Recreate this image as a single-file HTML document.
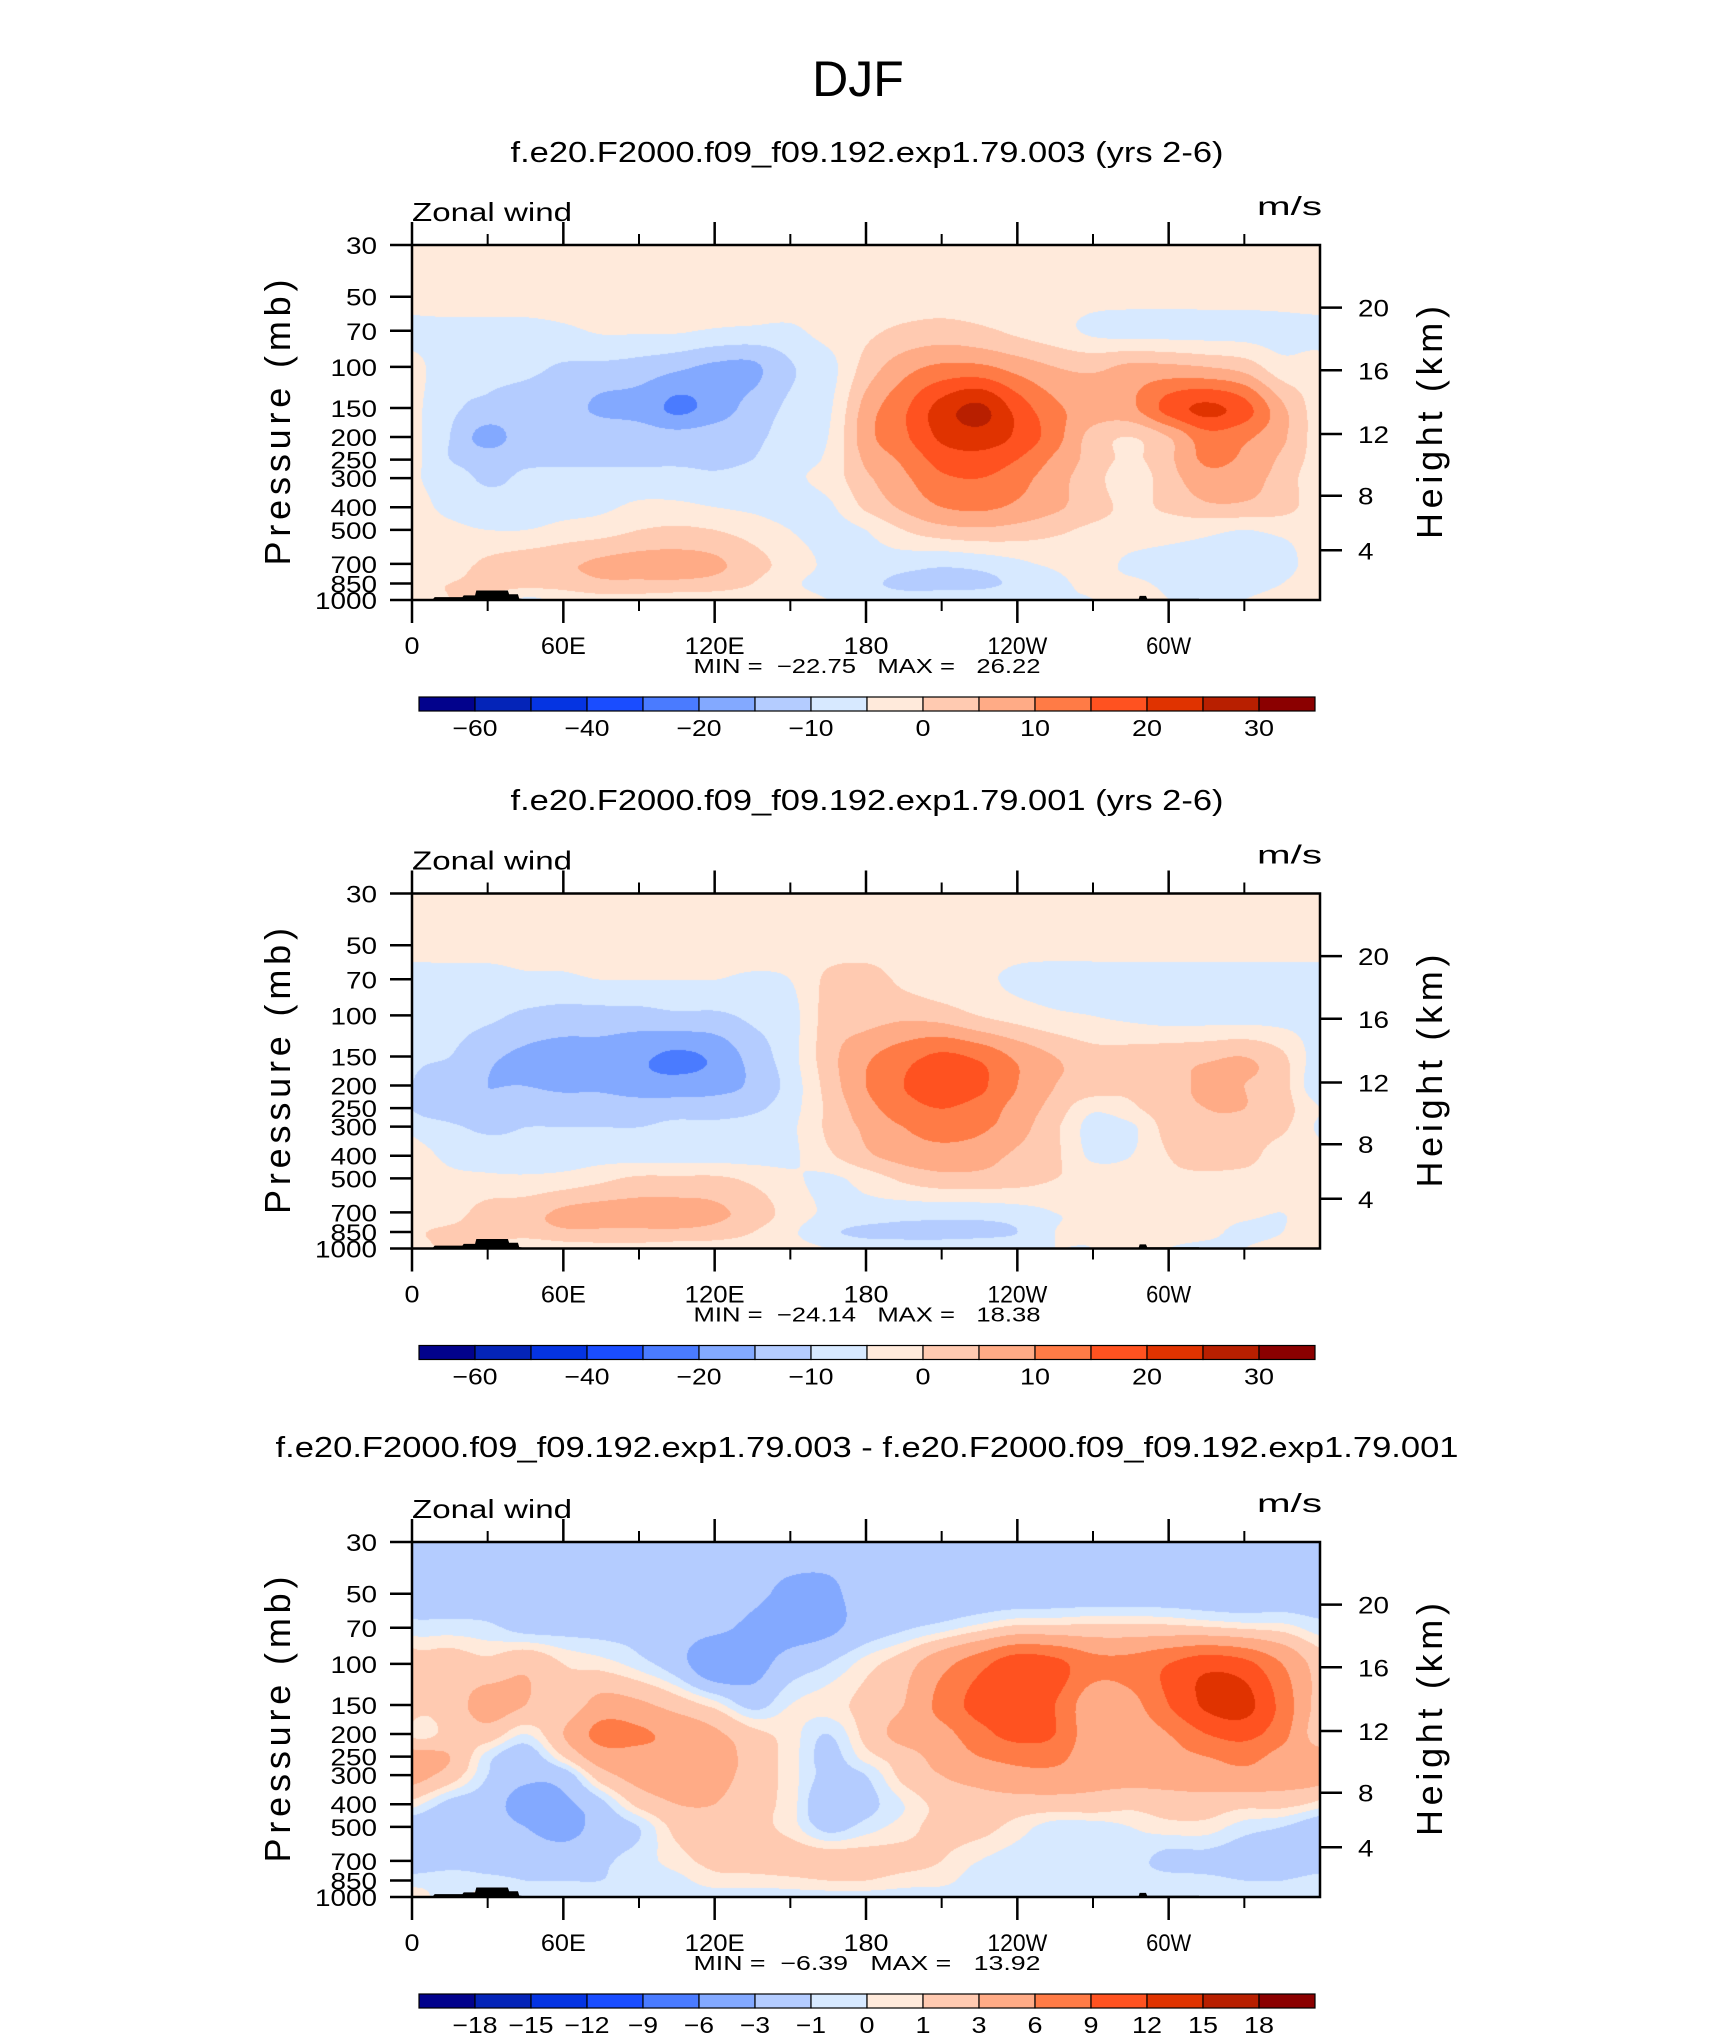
<!DOCTYPE html>
<html><head><meta charset="utf-8">
<style>
html,body{margin:0;padding:0;background:#fff;}
#root{position:relative;width:1710px;height:2038px;overflow:hidden;background:#fff;}
canvas{position:absolute;}
svg{position:absolute;left:0;top:0;}
text{font-family:"Liberation Sans",sans-serif;fill:#000;}
</style></head>
<body>
<div id="root">
<canvas id="c0" width="908" height="355"></canvas>
<canvas id="c1" width="908" height="355"></canvas>
<canvas id="c2" width="908" height="355"></canvas>
<svg id="ov" width="1710" height="2038"></svg>
</div>
<script>
// ---------- data ----------
const plev=[30,50,70,100,150,200,250,300,400,500,700,850,1000];
const lonGrid=[0,15,30,45,60,75,90,105,120,135,150,165,180,195,210,225,240,255,270,285,300,315,330,345,360];
const pTicks=[30,50,70,100,150,200,250,300,400,500,700,850,1000];
const heightKm=[4,8,12,16,20];
const heightP=[612,357,194,103.4,55.7];
const lonMajor=[0,60,120,180,240,300];
const lonMajorLabels=['0','60E','120E','180','120W','60W'];
const lonMinor=[30,90,150,210,270,330];
const edges1=[-60,-50,-40,-30,-20,-15,-10,-5,0,5,10,15,20,25,30];
const cbLabels1=['−60','','−40','','−20','','−10','','0','','10','','20','','30'];
const edges3=[-18,-15,-12,-9,-6,-3,-1,0,1,3,6,9,12,15,18];
const cbLabels3=['−18','−15','−12','−9','−6','−3','−1','0','1','3','6','9','12','15','18'];
const palette=['#02028c','#0424b8','#0534e2','#1a4dff','#4a7bff','#83a9ff','#b4ccff','#d7e9ff','#ffeadb','#ffcab1','#ffab86','#ff7b46','#ff5220','#e03300','#b81f00','#8b0000'];
const topoLon=[0,8,9,20,20.5,25,25.5,38,38.5,42,42.5,46,100,100.5,185,185.5,288,288.5,291,291.5,312,312.5,360];
const topoP=[1000,1000,972,972,955,955,910,910,945,945,985,1000,1000,990,990,1000,1000,960,960,988,988,1000,1000];

const u1=[
[-2,-2,-2,-2,-2,-2,-2,-2,-2,-2,-2,-2,-2,-2,-2,-2,-2,-2,-2,-2,-2,-2,-2,-2,-2],
[-2,-2,-2,-2,-2,-2,-2,-2,-2,-2,-2,-2,-2,-2,-2,-2,-2,-2,-3,-3,-3,-3,-3,-3,-2],
[-7,-7,-7,-7,-6,-4.5,-4.5,-4.5,-5.5,-6,-6,-3,-1,1,2,1,-1,-3,-6,-7,-7,-7,-7,-7,-7],
[-3,-9,-9,-9,-10.5,-11,-12,-14,-16,-16,-10.5,-7,2,8,11,11,8,5,4,6,6,5,3,-3,-3],
[-3,-9,-11,-12,-13,-16,-17,-21,-18,-13,-9,-6,7,14,22,26,18,11,8,9,17,21,17,6,-3],
[-3,-10,-17,-12,-11,-11,-12,-13,-12,-11,-8,-5,8,14,21,23,19,12,3,0,5,13,11,6,-3],
[-3,-10,-12,-11,-11,-11,-11,-11,-11,-10,-7,-4,6,11,17,18,15,9,3,-1,4,11,9,4,-3],
[-4,-7,-11,-9,-8,-8,-8,-8,-9,-8,-6,-3,4,9,14,15,12,7,2,-3,3,8,7,3,-4],
[-3,-6,-7,-8,-7,-6,-4,-4,-5,-6,-7,-6,1,6,10,11,9,6,2,-1,1,4,4,2,-3],
[-3,-4,-5,-5,-3,-2,0,1,0,-2,-5,-7,-5,0,3,4,3,1,-1,-2,-3,-4,-5,-4,-3],
[-2,-2,1,3,4,6,7,7,6,2,-2,-6,-7,-8,-9,-8,-6,-4,-3,-6,-7,-7,-7,-7,-2],
[-1,0,1,2,2,4,4,4,3,0,-4,-7,-9,-11,-11,-11,-9,-6,-4,-4,-6,-7,-7,-5,-1],
[-2,0,1,-6,-3,-2,-2,-3,-3,-3,-3,-5,-7,-8,-8,-7,-6,-5,-5,-2,-5,-6,-5,-3,-2]
];
const u2=[
[-2,-2,-2,-2,-2,-2,-2,-2,-2,-2,-2,-2,-2,-2,-2,-2,-2,-2,-2,-2,-2,-2,-2,-2,-2],
[-3,-3,-3,-3,-3,-2,-2,-2,-2,-2,-2,-2,-2,-2,-2,-2,-3,-3,-3,-3,-3,-3,-3,-3,-3],
[-7,-7,-7,-6,-6,-5,-5,-5,-5,-6,-5,1,2,-1,-3,-4,-6,-7,-7,-7,-7,-7,-7,-7,-7],
[-7,-8,-9,-11,-12,-12,-12,-11,-11,-9,-7,2,3,4,3,0,-2,-4,-5,-6,-7,-7,-7,-7,-7],
[-8,-10,-14,-16,-17,-17,-19,-21,-19,-13,-7,3,9,13,16,14,9,5,2,2,3,4,5,1,-8],
[-10,-14,-15,-15,-16,-16,-18,-18,-17,-14,-8,2,10,15,17,16,10,5,3,1,3,6,5,2,-10],
[-10,-13,-14,-12,-12,-12,-12,-12,-12,-11,-7,1,8,13,15,13,8,3,-4,-1,3,5,5,2,-5],
[-6,-9,-11,-10,-10,-10,-10,-9,-9,-8,-6,1,6,10,12,11,7,1,-7,-6,2,4,3,1,-6],
[-3,-6,-7,-8,-8,-7,-7,-7,-7,-7,-6,-1,4,7,8,7,4,1,-6,-5,0,2,2,-3,-3],
[-3,-4,-4,-4,-3,-1,1,1,1,-1,-4,-6,-3,1,3,3,2,0,-2,-2,-1,-1,-2,-3,-3],
[-3,-2,2,3,6,7,7,7,6,3,-2,-6,-7,-8,-8,-8,-7,-5,-4,-3,-3,-3,-4,-5,-3],
[-1,1,1,2,4,4,4,4,3,0,-4,-9,-11,-11,-11,-11,-10,-5,-4,-3,-3,-4,-6,-5,-1],
[-2,1,1,-4,-3,-2,-2,-3,-3,-3,-3,-5,-7,-8,-8,-7,-6,-5,-5,-2,-5,-6,-5,-3,-2]
];
const u3=[
[-2,-2,-2,-2,-2,-2,-2,-2,-2,-2,-2,-2,-2,-2,-2,-2,-2,-2,-2,-2,-2,-2,-2,-2,-2],
[-2,-2,-2,-2,-2,-2,-2,-2,-2,-2.5,-3.5,-3.5,-2,-2,-2,-2,-2,-2,-2,-2,-2,-2,-2,-2,-2],
[-0.5,-0.5,-0.7,-1.5,-1.5,-1.5,-1.5,-2,-2.5,-3.5,-4,-3.5,-2,-1.2,-0.5,0.5,1.5,1.5,1.5,1.5,1.5,1.2,0.8,0.5,-0.5],
[2,2,1.5,2.5,1,0.5,-0.5,-2,-5,-4,-2,-1,0.5,2,5,8,11,10,7,7,9,11,10,6,2],
[2,2,4,3,1.5,4,3.5,2,0.5,-1.5,0,0.5,1.5,3,7,10,10.5,9,4,5,9,12.5,13,8,2],
[0.8,1.5,2,0,3,7,6.5,5,3.5,1.5,0.5,-1,1.5,4,5,8,10,9,4,4,6,9,10,7,1.5],
[4,3,-0.5,-2,1,4.5,5,5,4.5,2,0.5,-1.5,0.5,2,4,6,7,7,4,4,5,6,7,5,4],
[4,2,-1,-2.5,-2,2,4,4.5,4,2,0.5,-1.5,-1,1.5,3,4,5,5,4,4,4,4.5,5,4.5,4],
[0.5,-1.5,-2,-4,-3.5,-1.5,1.5,3,3,1.5,0.5,-2.5,-1.5,0,1.5,2,2,2,2,1.5,2,2,1.5,1.5,0.5],
[-2,-2,-2,-3,-4,-2,-1,1.5,2,1.5,0.5,-1.5,-0.5,0.5,1.5,1.5,0.5,-0.5,-0.5,0,0.5,0.5,-0.5,-1,-2],
[-2,-1.5,-1.5,-1.5,-1.5,-1.2,-0.5,0.5,1.5,1.8,2,2,1.8,1.5,1,0,-0.5,-0.5,-0.5,-0.5,-1.5,-1.5,-2,-2.5,-2],
[-0.5,-0.5,-0.7,-1,-1,-1,-0.5,-0.3,0.5,0.5,0.7,1,1,0.5,0.3,-0.5,-0.5,-0.7,-0.7,-0.5,-0.5,-0.7,-1,-1,-0.5],
[0.5,-0.5,0.5,-0.5,-0.5,-0.5,-0.5,-0.5,-0.5,-0.5,-0.5,-0.5,-0.5,-0.5,-0.5,-0.5,-0.5,-0.5,-0.5,-0.5,-0.5,-0.5,-0.5,-0.5,-0.5]
];
const subtitles=['f.e20.F2000.f09_f09.192.exp1.79.003 (yrs 2-6)','f.e20.F2000.f09_f09.192.exp1.79.001 (yrs 2-6)','f.e20.F2000.f09_f09.192.exp1.79.003 - f.e20.F2000.f09_f09.192.exp1.79.001'];
const minVals=['−22.75','−24.14','−6.39'];
const maxVals=['26.22','18.38','13.92'];

// ---------- layout ----------
const L=412, W=908, H=355, TOPS=[245,893.5,1542];
const NS='http://www.w3.org/2000/svg';
const svg=document.getElementById('ov');
function xS(lon){return L+W*lon/360;}
function yS(T,p){return T+H*Math.log(p/30)/Math.log(1000/30);}
function mk(tag,attrs,parent){const e=document.createElementNS(NS,tag);for(const k in attrs)e.setAttribute(k,attrs[k]);(parent||svg).appendChild(e);return e;}
function txt(s,x,y,size,anchor,parent){const e=mk('text',{x:x,y:y,'font-size':size,'text-anchor':anchor||'start'},parent);e.textContent=s;return e;}

function colorIdx(v,edges){let i=0;while(i<edges.length&&v>=edges[i])i++;return i;}
function hex(c){return [parseInt(c.substr(1,2),16),parseInt(c.substr(3,2),16),parseInt(c.substr(5,2),16)];}
const palRGB=palette.map(hex);
const lnP=plev.map(p=>Math.log(p));

function cr(p0,p1,p2,p3,t){return 0.5*((2*p1)+(-p0+p2)*t+(2*p0-5*p1+4*p2-p3)*t*t+(-p0+3*p1-3*p2+p3)*t*t*t);}
function sample(data,fi,fj){
  const nI=lonGrid.length,nJ=plev.length;
  const i=Math.min(Math.floor(fi),nI-2),j=Math.min(Math.floor(fj),nJ-2);
  const tx=fi-i,ty=fj-j;
  const rows=[];
  for(let dj=-1;dj<=2;dj++){
    const jj=Math.max(0,Math.min(nJ-1,j+dj));
    const r=data[jj];
    const g=k=>{ if(k<0)k+=nI-1; if(k>nI-1)k-=nI-1; return r[k]; };
    rows.push(cr(g(i-1),g(i),g(i+1),g(i+2),tx));
  }
  return cr(rows[0],rows[1],rows[2],rows[3],ty);
}
function drawField(cid,T,data,edges){
  const cv=document.getElementById(cid);
  cv.style.left=L+'px';cv.style.top=T+'px';
  const ctx=cv.getContext('2d');
  const img=ctx.createImageData(W,H);
  for(let py=0;py<H;py++){
    const lp=Math.log(30)+(py+0.5)/H*Math.log(1000/30);
    let j=0;while(j<lnP.length-2&&lp>lnP[j+1])j++;
    let fy=(lp-lnP[j])/(lnP[j+1]-lnP[j]);fy=Math.max(0,Math.min(1,fy));
    for(let px=0;px<W;px++){
      const lon=(px+0.5)/W*360;
      const fi=lon/15;
      const v=sample(data,fi,j+fy);
      const c=palRGB[colorIdx(v,edges)];
      const o=(py*W+px)*4;img.data[o]=c[0];img.data[o+1]=c[1];img.data[o+2]=c[2];img.data[o+3]=255;
    }
  }
  ctx.putImageData(img,0,0);
}

// ---------- title ----------
const t0=txt('DJF',858,96,50,'middle');



const fields=[u1,u2,u3];
const edgeSets=[edges1,edges1,edges3];
const cbLabelSets=[cbLabels1,cbLabels1,cbLabels3];
const subY=[162,810,1457];
const subLen=[713,713,1183];

for(let k=0;k<3;k++){
  const T=TOPS[k];
  drawField('c'+k,T,fields[k],edgeSets[k]);
  const g=mk('g',{});
  
  

  const st=txt(subtitles[k],867,subY[k],29,'middle',g);
  st.setAttribute('textLength',subLen[k]);
  st.setAttribute('lengthAdjust','spacingAndGlyphs');
  
  

  let pts=topoLon.map((lo,i)=>xS(lo)+','+yS(T,topoP[i])).join(' ');
  pts+=' '+xS(360)+','+yS(T,1000)+' '+xS(0)+','+yS(T,1000);
  const topo=mk('polygon',{points:pts,fill:'#000'},g);
  
  

  const fr=mk('rect',{x:L,y:T,width:W,height:H,fill:'none',stroke:'#000','stroke-width':2.5},g);
  
  

  pTicks.forEach(p=>{
    const y=yS(T,p);
    const tk=mk('line',{x1:L-22,x2:L,y1:y,y2:y,stroke:'#000','stroke-width':2.5},g);
    
    
    const s=String(p);
    const lb=txt(s,377,y+9,24,'end',g);
    lb.setAttribute('textLength',s.length*15.5);
    lb.setAttribute('lengthAdjust','spacingAndGlyphs');
    
    
  });
  heightP.forEach((p,i)=>{
    const y=yS(T,p);
    const tk=mk('line',{x1:L+W,x2:L+W+22,y1:y,y2:y,stroke:'#000','stroke-width':2.5},g);
    
    
    const s=String(heightKm[i]);
    const lb=txt(s,1358,y+9,24,'start',g);
    lb.setAttribute('textLength',s.length*15.5);
    lb.setAttribute('lengthAdjust','spacingAndGlyphs');
    
    
  });
  lonMajor.forEach((lo,i)=>{
    const x=xS(lo);
    const a=mk('line',{x1:x,x2:x,y1:T+H,y2:T+H+23,stroke:'#000','stroke-width':2.5},g);
    
    
    const b=mk('line',{x1:x,x2:x,y1:T-23,y2:T,stroke:'#000','stroke-width':2.5},g);
    
    
    const s=lonMajorLabels[i];
    const lb=txt(s,x,T+409,24,'middle',g);
    lb.setAttribute('textLength',s.length*15);
    lb.setAttribute('lengthAdjust','spacingAndGlyphs');
    
    
  });
  lonMinor.forEach(lo=>{
    const x=xS(lo);
    const a=mk('line',{x1:x,x2:x,y1:T+H,y2:T+H+11,stroke:'#000','stroke-width':2},g);
    
    
    const b=mk('line',{x1:x,x2:x,y1:T-11,y2:T,stroke:'#000','stroke-width':2},g);
    
    
  });

  const zw=txt('Zonal wind',412,T-24,26,'start',g);
  zw.setAttribute('textLength',160);
  zw.setAttribute('lengthAdjust','spacingAndGlyphs');
  
  
  const un=txt('m/s',1322,T-30,26,'end',g);
  un.setAttribute('textLength',65);
  un.setAttribute('lengthAdjust','spacingAndGlyphs');
  
  

  const yt=txt('Pressure (mb)',0,0,36,'middle',g);
  yt.setAttribute('transform','translate(290,'+(T+H/2)+') rotate(-90)');
  yt.setAttribute('textLength',286);
  
  
  const ht=txt('Height (km)',0,0,36,'middle',g);
  ht.setAttribute('transform','translate(1442,'+(T+H/2)+') rotate(-90)');
  ht.setAttribute('textLength',233);
  
  

  const mm=txt('MIN =  '+minVals[k]+'   MAX =   '+maxVals[k],867,T+428,20,'middle',g);
  mm.setAttribute('xml:space','preserve');
  mm.style.whiteSpace='pre';
  mm.setAttribute('textLength',347);
  mm.setAttribute('lengthAdjust','spacingAndGlyphs');
  
  

  const cbL=419, cbW=896, n=palette.length, bw=cbW/n, cbT=T+452;
  const cb=mk('g',{},g);
  
  
  palette.forEach((c,i)=>{
    const r=mk('rect',{x:cbL+i*bw,y:cbT,width:bw,height:14,fill:c,stroke:'#000','stroke-width':1.2},cb);
    
    
  });
  cbLabelSets[k].forEach((s,i)=>{
    if(!s)return;
    const lb=txt(s,cbL+(i+1)*bw,T+491,23,'middle',cb);
    lb.setAttribute('textLength',s.length*15);
    lb.setAttribute('lengthAdjust','spacingAndGlyphs');
    
    
  });
}
</script>
</body></html>
